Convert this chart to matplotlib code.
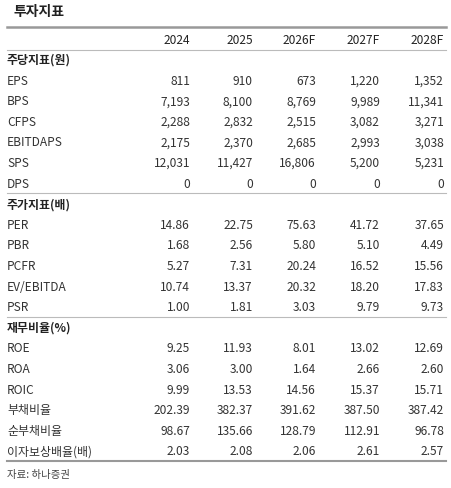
import matplotlib
matplotlib.use("Agg")
import matplotlib.pyplot as plt

plt.rcParams['font.family'] = ['Noto Sans CJK KR', 'DejaVu Sans']

title = "투자지표"
years = ["2024", "2025", "2026F", "2027F", "2028F"]
sec1 = "주당지표(원)"
sec1_rows = ["EPS", "BPS", "CFPS", "EBITDAPS", "SPS", "DPS"]
sec1_vals = [[811, 910, 673, 1220, 1352],
             [7193, 8100, 8769, 9989, 11341],
             [2288, 2832, 2515, 3082, 3271],
             [2175, 2370, 2685, 2993, 3038],
             [12031, 11427, 16806, 5200, 5231],
             [0, 0, 0, 0, 0]]
sec2 = "주가지표(배)"
sec2_rows = ["PER", "PBR", "PCFR", "EV/EBITDA", "PSR"]
sec2_vals = [[14.86, 22.75, 75.63, 41.72, 37.65],
             [1.68, 2.56, 5.80, 5.10, 4.49],
             [5.27, 7.31, 20.24, 16.52, 15.56],
             [10.74, 13.37, 20.32, 18.20, 17.83],
             [1.00, 1.81, 3.03, 9.79, 9.73]]
sec3 = "재무비율(%)"
sec3_rows = ["ROE", "ROA", "ROIC", "부채비율", "순부채비율", "이자보상배율(배)"]
sec3_vals = [[9.25, 11.93, 8.01, 13.02, 12.69],
             [3.06, 3.00, 1.64, 2.66, 2.60],
             [9.99, 13.53, 14.56, 15.37, 15.71],
             [202.39, 382.37, 391.62, 387.50, 387.42],
             [98.67, 135.66, 128.79, 112.91, 96.78],
             [2.03, 2.08, 2.06, 2.61, 2.57]]
source = "자료: 하나증권"

W, H = 452, 489
fig = plt.figure(figsize=(W/100, H/100), dpi=100)
ax = fig.add_axes([0, 0, 1, 1])
ax.set_xlim(0, W); ax.set_ylim(H, 0); ax.axis('off')

col_x = [190, 253, 316, 380, 444]
txt = '#222222'
fs = 8.6

ax.text(14, 12, title, fontsize=10, fontweight='bold', va='center', ha='left', color=txt)
ax.plot([7, 446], [28, 28], color='#999999', lw=1.8)
for x, y in zip(col_x, years):
    ax.text(x, 40, y, fontsize=fs, ha='right', va='center', color=txt)
ax.plot([7, 446], [51, 51], color='#bbbbbb', lw=0.8)

step = 20.6
y = 60.5
def section(name, rows, vals, fmt):
    global y
    ax.text(7, y, name, fontsize=fs, fontweight='bold', ha='left', va='center', color=txt)
    y += step
    for r, v in zip(rows, vals):
        ax.text(7, y, r, fontsize=fs, ha='left', va='center', color='#333333')
        for x, val in zip(col_x, v):
            ax.text(x, y, fmt(val), fontsize=fs, ha='right', va='center', color='#333333')
        y += step

section(sec1, sec1_rows, sec1_vals, lambda v: f"{v:,.0f}")
ax.plot([7, 446], [y - step/2, y - step/2], color='#bbbbbb', lw=0.8)
section(sec2, sec2_rows, sec2_vals, lambda v: f"{v:,.2f}")
ax.plot([7, 446], [y - step/2, y - step/2], color='#bbbbbb', lw=0.8)
section(sec3, sec3_rows, sec3_vals, lambda v: f"{v:,.2f}")
ax.plot([7, 446], [y - step/2, y - step/2], color='#999999', lw=1.5)
ax.text(7, 475, source, fontsize=7.5, ha='left', va='center', color='#444444')

fig.savefig("out.png", dpi=100)
